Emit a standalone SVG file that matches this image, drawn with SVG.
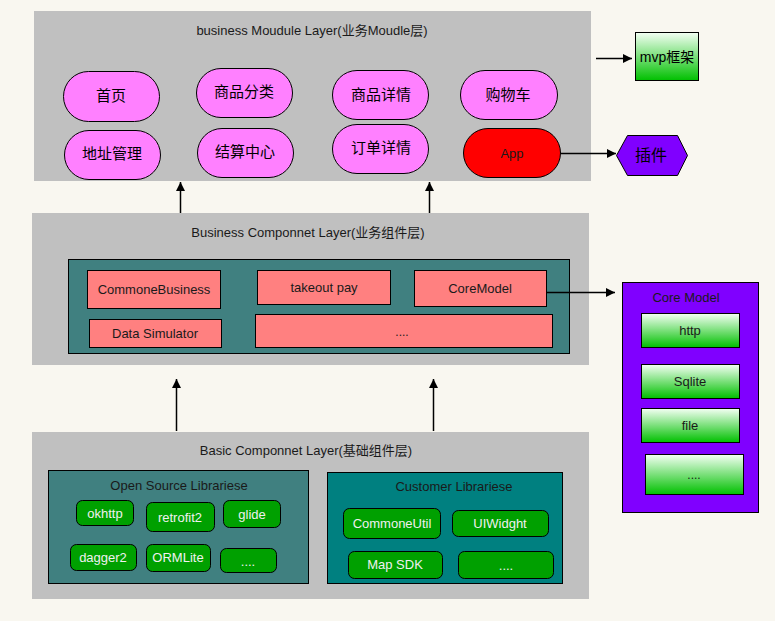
<svg xmlns="http://www.w3.org/2000/svg" width="775" height="621" viewBox="0 0 775 621">
<defs>
<linearGradient id="gg" x1="0" y1="0" x2="0" y2="1">
<stop offset="0" stop-color="#F4FFF4"/>
<stop offset="1" stop-color="#00C000"/>
</linearGradient>
<marker id="ah" viewBox="0 0 10 10" refX="10" refY="5" markerWidth="9" markerHeight="9" markerUnits="userSpaceOnUse" orient="auto">
<path d="M0,0 L10,5 L0,10 z" fill="#000"/>
</marker>
<style>
text{font-family:"Liberation Sans","Noto Sans CJK SC",Arial,sans-serif;font-size:12px;fill:#1a1a1a;text-anchor:middle}
.tt{font-size:13px}
.cn{font-size:15px;fill:#000}
.layer{fill:#C0C0C0}
.pill{fill:#FF80FF;stroke:#000;stroke-width:1}
.teal{fill:#408080;stroke:#000;stroke-width:1}
.teal2{fill:#008080;stroke:#000;stroke-width:1}
.red{fill:#FF8080;stroke:#000;stroke-width:1}
.grn{fill:url(#gg);stroke:#000;stroke-width:1}
.lib{fill:#00A000;stroke:#000;stroke-width:1}
.wt{fill:#F0F0F0;font-size:13px}
.rt{font-size:13px}
.conn{stroke:#000;stroke-width:1.5;fill:none;marker-end:url(#ah)}
</style>
</defs>
<rect width="775" height="621" fill="#F9F7F0"/>

<g id="business-module-layer">
<rect class="layer" x="34" y="11" width="557" height="170"/>
<text class="tt" x="312" y="35">business Moudule Layer(业务Moudle层)</text>
</g>
<g id="n-shouye"><rect class="pill" x="63.5" y="71.5" width="96" height="50" rx="25" ry="25"/><text class="cn" x="111" y="101">首页</text></g>
<g id="n-dizhi"><rect class="pill" x="64.5" y="130.5" width="96" height="49" rx="24.5" ry="24.5"/><text class="cn" x="112" y="159">地址管理</text></g>
<g id="n-fenlei"><rect class="pill" x="196.5" y="68.5" width="96" height="49" rx="24.5" ry="24.5"/><text class="cn" x="244" y="97">商品分类</text></g>
<g id="n-jiesuan"><rect class="pill" x="197.5" y="128.5" width="96" height="49" rx="24.5" ry="24.5"/><text class="cn" x="245" y="157">结算中心</text></g>
<g id="n-xiangqing"><rect class="pill" x="332.5" y="70.5" width="96" height="49" rx="24.5" ry="24.5"/><text class="cn" x="381" y="100">商品详情</text></g>
<g id="n-dingdan"><rect class="pill" x="332.5" y="124.5" width="96" height="49" rx="24.5" ry="24.5"/><text class="cn" x="381" y="153">订单详情</text></g>
<g id="n-gouwuche"><rect class="pill" x="460.5" y="70.5" width="97" height="49" rx="24.5" ry="24.5"/><text class="cn" x="508" y="100">购物车</text></g>
<g id="n-app"><rect x="463.5" y="128.5" width="97" height="49" rx="24.5" ry="24.5" fill="#FF0000" stroke="#000"/><text class="rt" x="512" y="158">App</text></g>

<g id="n-mvp"><rect class="grn" x="635.5" y="32.5" width="63" height="48"/><text class="cn" x="667" y="62" style="font-size:14px">mvp框架</text></g>
<g id="n-plugin"><polygon points="616.5,155.5 627.5,135.5 677.5,135.5 687.5,155.5 677.5,175.5 627.5,175.5" fill="#8000FF" stroke="#000"/><text class="cn" x="651" y="161" style="font-size:16px">插件</text></g>

<g id="business-component-layer">
<rect class="layer" x="32" y="213" width="557" height="152"/>
<text class="tt" x="308" y="237">Business Componnet Layer(业务组件层)</text>
<rect class="teal" x="68.5" y="259.5" width="501" height="94"/>
</g>
<g id="n-commonebusiness"><rect class="red" x="87.5" y="270.5" width="133" height="38"/><text class="rt" x="154" y="294">CommoneBusiness</text></g>
<g id="n-takeout"><rect class="red" x="257.5" y="270.5" width="133" height="34"/><text class="rt" x="324" y="292">takeout pay</text></g>
<g id="n-coremodel"><rect class="red" x="414.5" y="270.5" width="132" height="36"/><text class="rt" x="480" y="293">CoreModel</text></g>
<g id="n-datasim"><rect class="red" x="89.5" y="319.5" width="132" height="28"/><text class="rt" x="155" y="338">Data Simulator</text></g>
<g id="n-more1"><rect class="red" x="255.5" y="314.5" width="297" height="33"/><text x="402" y="336">....</text></g>

<g id="core-model">
<rect x="622.5" y="282.5" width="136" height="230" fill="#8000FF" stroke="#000"/>
<text class="tt" x="686" y="302">Core Model</text>
</g>
<g id="n-http"><rect class="grn" x="641.5" y="313.5" width="98" height="34"/><text class="rt" x="690" y="335">http</text></g>
<g id="n-sqlite"><rect class="grn" x="641.5" y="364.5" width="98" height="34"/><text class="rt" x="690" y="386">Sqlite</text></g>
<g id="n-file"><rect class="grn" x="641.5" y="408.5" width="98" height="34"/><text class="rt" x="690" y="430">file</text></g>
<g id="n-more2"><rect class="grn" x="645.5" y="454.5" width="98" height="40"/><text x="694" y="479">....</text></g>

<g id="basic-component-layer">
<rect class="layer" x="32" y="432" width="557" height="167"/>
<text class="tt" x="306" y="455">Basic Componnet Layer(基础组件层)</text>
</g>
<g id="open-source">
<rect class="teal" x="48.5" y="470.5" width="260" height="113"/>
<text class="tt" x="179" y="490">Open Source Librariese</text>
</g>
<g id="n-okhttp"><rect class="lib" x="76.5" y="500.5" width="57" height="25" rx="6"/><text class="wt" x="105" y="518">okhttp</text></g>
<g id="n-retrofit"><rect class="lib" x="146.5" y="502.5" width="68" height="29" rx="6"/><text class="wt" x="180" y="522">retrofit2</text></g>
<g id="n-glide"><rect class="lib" x="223.5" y="500.5" width="57" height="27" rx="6"/><text class="wt" x="252" y="519">glide</text></g>
<g id="n-dagger"><rect class="lib" x="70.5" y="544.5" width="66" height="26" rx="6"/><text class="wt" x="103" y="562">dagger2</text></g>
<g id="n-ormlite"><rect class="lib" x="146.5" y="544.5" width="64" height="27" rx="6"/><text class="wt" x="178" y="562">ORMLite</text></g>
<g id="n-more3"><rect class="lib" x="220.5" y="548.5" width="56" height="24" rx="6"/><text class="wt" x="248" y="566">....</text></g>
<g id="customer">
<rect class="teal2" x="327.5" y="472.5" width="235" height="111"/>
<text class="tt" x="454" y="491">Customer Librariese</text>
</g>
<g id="n-commoneutil"><rect class="lib" x="343.5" y="508.5" width="97" height="30" rx="6"/><text class="wt" x="392" y="528">CommoneUtil</text></g>
<g id="n-uiwidght"><rect class="lib" x="452.5" y="510.5" width="96" height="26" rx="6"/><text class="wt" x="500" y="528">UIWidght</text></g>
<g id="n-mapsdk"><rect class="lib" x="348.5" y="551.5" width="94" height="27" rx="6"/><text class="wt" x="395" y="569">Map SDK</text></g>
<g id="n-more4"><rect class="lib" x="458.5" y="551.5" width="95" height="27" rx="6"/><text class="wt" x="506" y="570">....</text></g>

<g id="connectors">
<line class="conn" x1="180.5" y1="213" x2="180.5" y2="182"/>
<line class="conn" x1="429.5" y1="213" x2="429.5" y2="182"/>
<line class="conn" x1="176.5" y1="431" x2="176.5" y2="379"/>
<line class="conn" x1="433.5" y1="431" x2="433.5" y2="379"/>
<line class="conn" x1="546" y1="292.5" x2="615" y2="292.5"/>
<line class="conn" x1="561" y1="153.5" x2="616" y2="153.5"/>
<line class="conn" x1="596" y1="58.5" x2="632" y2="58.5"/>
</g>
</svg>
